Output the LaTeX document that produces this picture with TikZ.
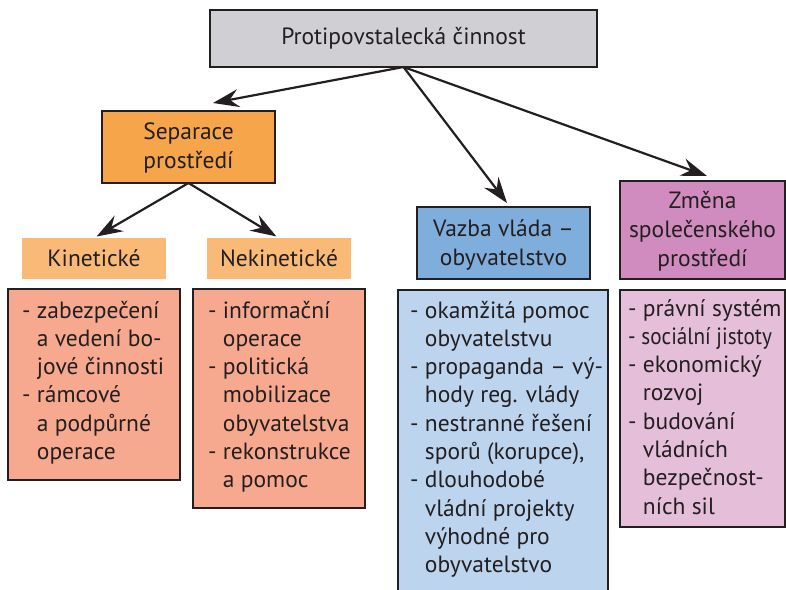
\documentclass[tikz,border=0pt]{standalone}
\usepackage{fontspec}
\usepackage{graphicx}
\setmainfont{PT Sans}
\usetikzlibrary{arrows.meta}
\definecolor{ink}{HTML}{231F20}
\definecolor{cTop}{HTML}{D0CFD4}
\definecolor{cSep}{HTML}{F7A54B}
\definecolor{cKin}{HTML}{F9BA77}
\definecolor{cKinL}{HTML}{F6A98E}
\definecolor{cVaz}{HTML}{7FAEDC}
\definecolor{cVazL}{HTML}{BDD4EE}
\definecolor{cZm}{HTML}{D08BBF}
\definecolor{cZmL}{HTML}{E5BFDA}
\tikzset{
  box/.style={draw=ink, line width=2.6pt, anchor=north west, inner sep=0pt, outer sep=0pt},
  lbl/.style={anchor=north west, inner sep=0pt, outer sep=0pt},
  txt/.style={inner sep=0pt, text=ink, font=\fontsize{23.5}{29}\selectfont, align=center},
  lst/.style={inner sep=0pt, text=ink, anchor=north west, font=\fontsize{23.5}{28.3}\selectfont, align=left},
  arr/.style={draw=ink, line width=2.2pt, -{Stealth[length=26pt, width=18pt, inset=9pt]}}
}
\newcommand{\hi}{\hphantom{- }}
\begin{document}
\begin{tikzpicture}[x=1pt, y=-1pt]
\useasboundingbox (0,0) rectangle (786,589);
\begin{scope}
\clip (0,0) rectangle (786,589);
% boxes
\node[box, fill=cTop, minimum width=387pt, minimum height=57pt] (top) at (210,10) {};
\node[box, fill=cSep, minimum width=173pt, minimum height=72pt] (sep) at (102,111) {};
\node[lbl, fill=cKin, minimum width=144pt, minimum height=41pt] (kin) at (22,238) {};
\node[lbl, fill=cKin, minimum width=144pt, minimum height=41pt] (nek) at (207,238) {};
\node[box, fill=cKinL, minimum width=172pt, minimum height=191pt] (kinl) at (8,289) {};
\node[box, fill=cKinL, minimum width=172pt, minimum height=219pt] (nekl) at (193,289) {};
\node[box, fill=cVaz, minimum width=173pt, minimum height=72pt] (vaz) at (417,207) {};
\node[box, fill=cZm, minimum width=165pt, minimum height=98pt] (zm) at (620,181) {};
\node[box, fill=cVazL, minimum width=210pt, minimum height=320pt] (vazl) at (398,290) {};
\node[box, fill=cZmL, minimum width=165pt, minimum height=237pt] (zml) at (620,290) {};
\end{scope}
% header texts
\node[txt] (tTop) at (top.center) {Protipovstalecká činnost};
\node[txt] (tSep) at ([yshift=-1pt]sep.center) {Separace\\prostředí};
\node[txt] (tKin) at (kin.center) {Kinetické};
\node[txt] (tNek) at (nek.center) {Nekinetické};
\node[txt] (tVaz) at ([yshift=-2pt]vaz.center) {Vazba vláda –\\obyvatelstvo};
\node[txt] (tZm) at ([yshift=-1pt]zm.center) {Změna\\společenského\\prostředí};
% lists
\node[lst] (lKin) at (22,298) {\strut- zabezpečení\\\hi a vedení bo-\\\hi jové činnosti\\- rámcové\\\hi a podpůrné\\\hi operace};
\node[lst] (lNek) at (208,298) {\strut- informační\\\hi operace\\- politická\\\hi mobilizace\\\hi obyvatelstva\\- rekonstrukce\\\hi a pomoc};
\node[lst] (lVaz) at (410,298) {\strut- okamžitá pomoc\\\hi obyvatelstvu\\- propaganda – vý-\\\hi hody reg. vlády\\- nestranné řešení\\\hi sporů (korupce),\\- dlouhodobé\\\hi vládní projekty\\\hi výhodné pro\\\hi obyvatelstvo};
\node[lst] (lZm) at (628,296) {\strut- právní systém\\\scalebox{0.9}[1]{- sociální jistoty}\\- ekonomický\\\hi rozvoj\\- budování\\\hi vládních\\\hi bezpečnost-\\\hi ních sil};
% arrows
\coordinate (aSep) at (213,103);
\coordinate (aVaz) at (507,203);
\coordinate (aZm) at (707,176);
\draw[arr] (top.south) -- (aSep);
\draw[arr] (top.south) -- (aVaz);
\draw[arr] (top.south) -- (aZm);
\draw[arr, shorten >=3pt] (sep.south) -- (kin.north);
\draw[arr, shorten >=3pt] (sep.south) -- (nek.north);
\end{tikzpicture}
\end{document}
